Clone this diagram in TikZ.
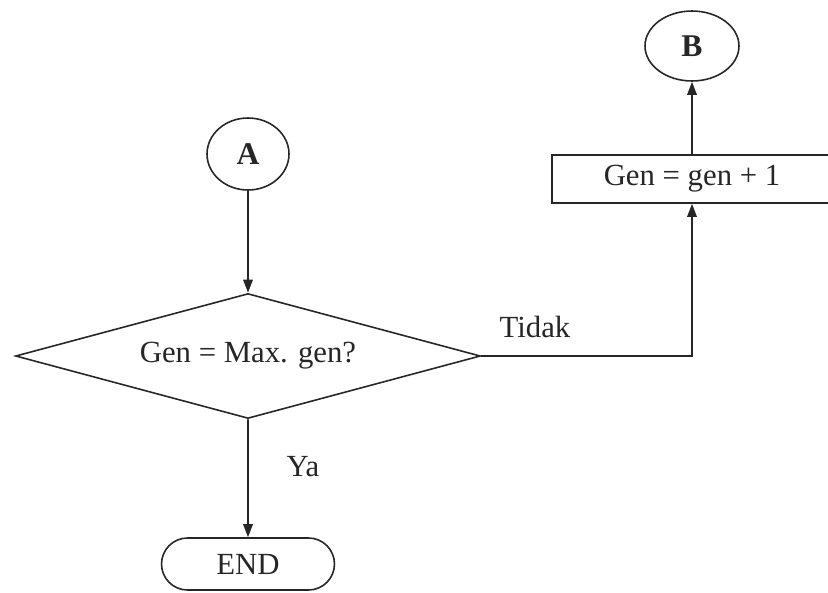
\documentclass[tikz,border=0pt]{standalone}
\usepackage{fontspec}
\setmainfont{Liberation Serif}
\usetikzlibrary{shapes.geometric,shapes.misc,arrows.meta}
\begin{document}
\begin{tikzpicture}[x=0.02cm,y=-0.02cm,
  ink/.style={draw=black!85, line width=0.9pt},
  txt/.style={text=black!85, font=\fontsize{17.5}{20}\selectfont},
  connector/.style={ink, -{Triangle[length=7.5pt,width=5.5pt]}},
  bubble/.style={ink, txt, ellipse, inner sep=0pt, font=\fontsize{18}{20}\selectfont\bfseries},
  procbox/.style={ink, txt, rectangle, inner sep=0pt, minimum width=5.6cm, minimum height=0.96cm},
  decision/.style={ink, txt, diamond, inner sep=0pt, minimum width=9.3cm, minimum height=2.5cm, shape aspect=3.72},
  terminal/.style={ink, txt, rounded rectangle, inner sep=0pt, minimum width=3.46cm, minimum height=1.04cm}]
  \useasboundingbox (0,0) rectangle (828,592);

  \node[bubble, minimum width=1.64cm, minimum height=1.44cm] (A) at (248,154) {A};
  \node[bubble, minimum width=1.88cm, minimum height=1.40cm] (B) at (692,46) {B};
  \node[procbox] (inc) at (692,179) {Gen = gen + 1};
  \node[decision] (test) at (248,356) {Gen = Max. gen?};
  \node[terminal] (end) at (248,564) {END};

  \draw[connector] (A) -- (test);
  \draw[connector] (test) -- (end);
  \node[txt] (yes) at (303,467) {Ya};
  \draw[connector] (test.east) -| (inc.south);
  \node[txt] (no) at (535,327) {Tidak};
  \draw[connector] (inc) -- (B);
\end{tikzpicture}
\end{document}
